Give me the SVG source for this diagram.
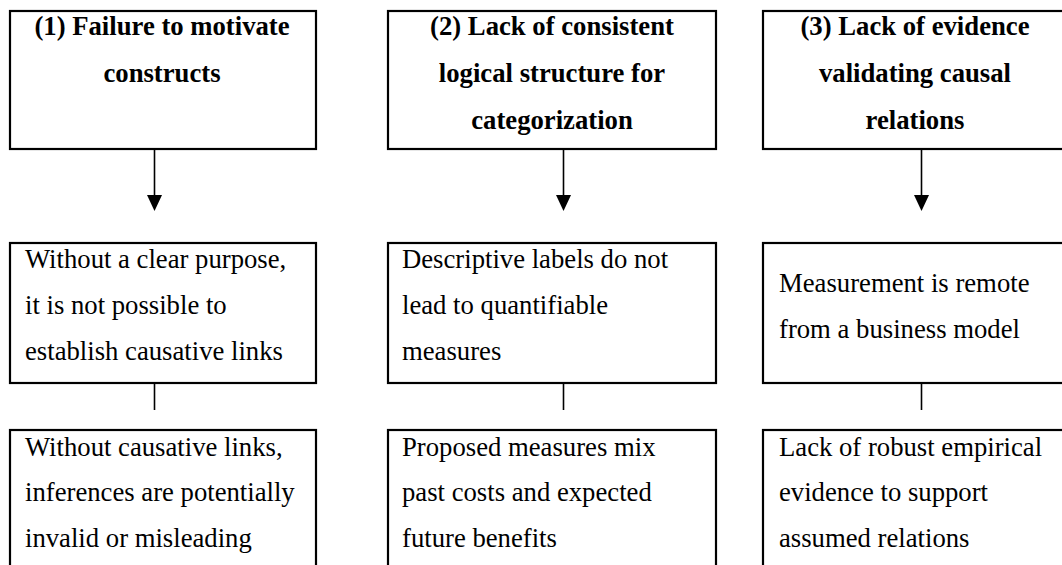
<svg xmlns="http://www.w3.org/2000/svg" width="1062" height="565" viewBox="0 0 1062 565">
<style>
.box{fill:#fff;stroke:#000;stroke-width:2.2}
.t{font-family:"Liberation Serif","Times New Roman",serif;font-size:26.7px;fill:#000}
.b{font-weight:bold;text-anchor:middle}
.c{stroke:#000;stroke-width:1.6;fill:none}
</style>
<rect width="1062" height="565" fill="#fff"/>
<g id="connectors">
<line class="c" x1="154.5" y1="149" x2="154.5" y2="195"/>
<path d="M147,195 L162,195 L154.5,211 Z" fill="#000"/>
<line class="c" x1="563.5" y1="149" x2="563.5" y2="195"/>
<path d="M556,195 L571,195 L563.5,211 Z" fill="#000"/>
<line class="c" x1="921.5" y1="149" x2="921.5" y2="195"/>
<path d="M914,195 L929,195 L921.5,211 Z" fill="#000"/>
<line class="c" x1="154.5" y1="383" x2="154.5" y2="410"/>
<line class="c" x1="563.5" y1="383" x2="563.5" y2="410"/>
<line class="c" x1="921.5" y1="383" x2="921.5" y2="410"/>
</g>
<g id="n1">
<rect class="box" x="10" y="11" width="306" height="138"/>
<text class="t b" x="162" y="35">(1) Failure to motivate</text>
<text class="t b" x="162" y="82">constructs</text>
</g>
<g id="n2">
<rect class="box" x="388" y="11" width="328" height="138"/>
<text class="t b" x="552" y="35">(2) Lack of consistent</text>
<text class="t b" x="552" y="82">logical structure for</text>
<text class="t b" x="552" y="129">categorization</text>
</g>
<g id="n3">
<rect class="box" x="763" y="11" width="310" height="138"/>
<text class="t b" x="915" y="35">(3) Lack of evidence</text>
<text class="t b" x="915" y="82">validating causal</text>
<text class="t b" x="915" y="129">relations</text>
</g>
<g id="n4">
<rect class="box" x="10" y="243" width="306" height="140"/>
<text class="t" x="25" y="268">Without a clear purpose,</text>
<text class="t" x="25" y="314">it is not possible to</text>
<text class="t" x="25" y="360">establish causative links</text>
</g>
<g id="n5">
<rect class="box" x="388" y="243" width="328" height="140"/>
<text class="t" x="402" y="268">Descriptive labels do not</text>
<text class="t" x="402" y="314">lead to quantifiable</text>
<text class="t" x="402" y="360">measures</text>
</g>
<g id="n6">
<rect class="box" x="763" y="243" width="310" height="140"/>
<text class="t" x="779" y="292">Measurement is remote</text>
<text class="t" x="779" y="338">from a business model</text>
</g>
<g id="n7">
<rect class="box" x="10" y="430" width="306" height="170"/>
<text class="t" x="25" y="456">Without causative links,</text>
<text class="t" x="25" y="501">inferences are potentially</text>
<text class="t" x="25" y="547">invalid or misleading</text>
</g>
<g id="n8">
<rect class="box" x="388" y="430" width="328" height="170"/>
<text class="t" x="402" y="456">Proposed measures mix</text>
<text class="t" x="402" y="501">past costs and expected</text>
<text class="t" x="402" y="547">future benefits</text>
</g>
<g id="n9">
<rect class="box" x="763" y="430" width="310" height="170"/>
<text class="t" x="779" y="456">Lack of robust empirical</text>
<text class="t" x="779" y="501">evidence to support</text>
<text class="t" x="779" y="547">assumed relations</text>
</g>
</svg>
